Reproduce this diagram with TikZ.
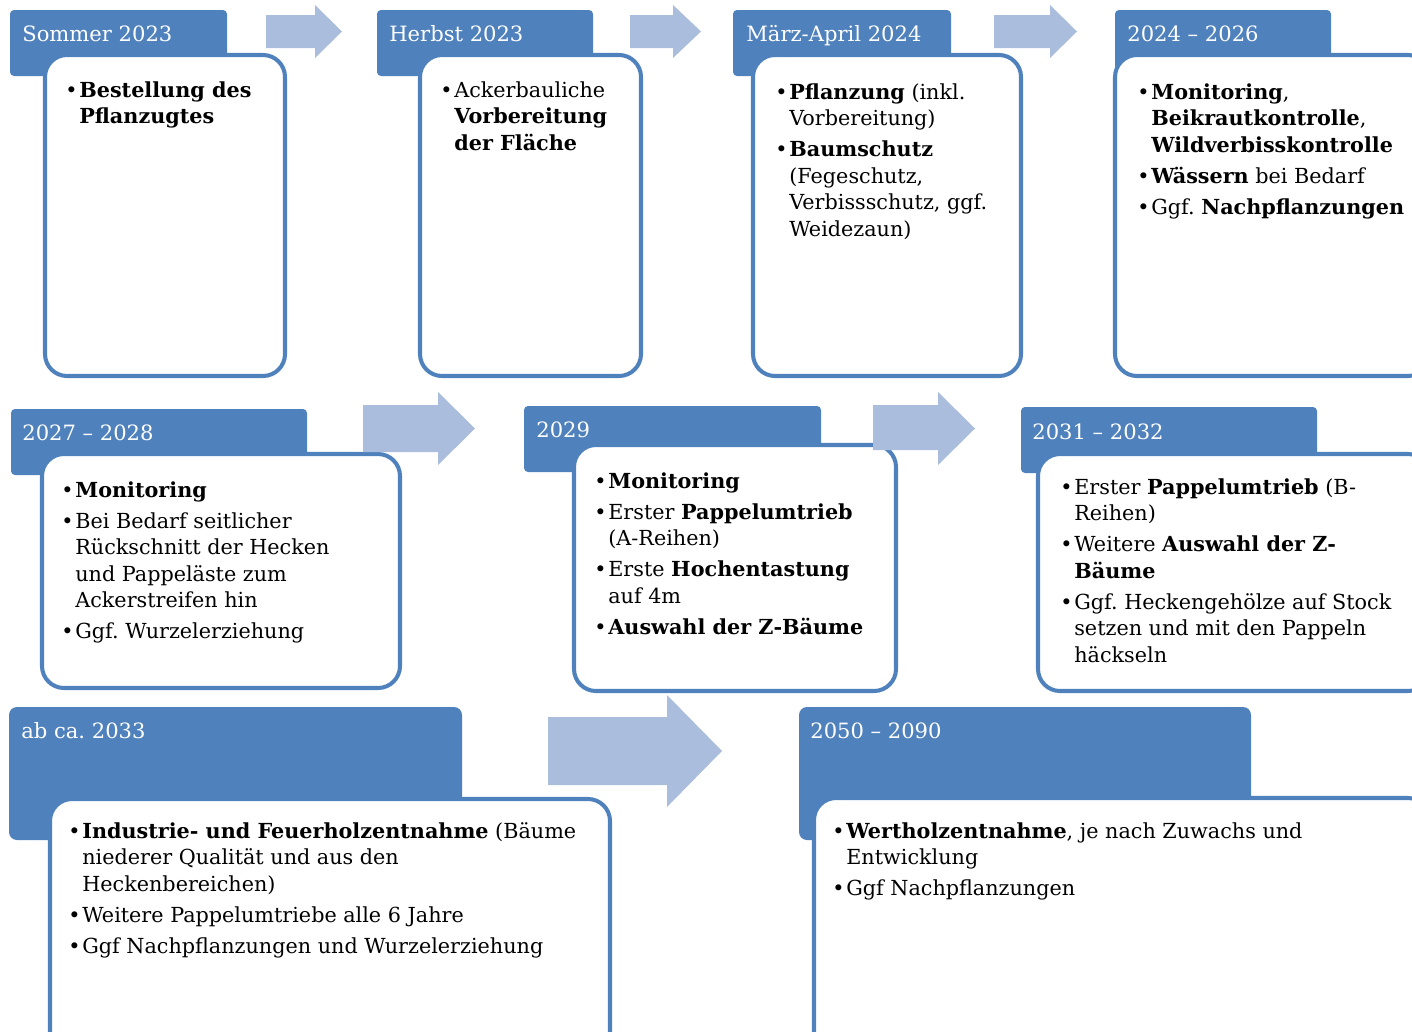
\documentclass[tikz,border=0pt]{standalone}
\usepackage{fontspec}
\setmainfont{DejaVu Serif}
\definecolor{tabblue}{RGB}{79,129,189}
\definecolor{arrowfill}{RGB}{171,189,220}
\tikzset{
  tab/.style={fill=tabblue,rounded corners=0.08cm},
  bigtab/.style={fill=tabblue,rounded corners=0.16cm},
  card/.style={fill=white,draw=tabblue,line width=2.3pt,rounded corners=0.44cm},
  flow/.style={fill=arrowfill},
  phase/.style={anchor=base west,inner sep=0,text=white,font=\fontsize{12pt}{15.1pt}\selectfont},
  body/.style={anchor=base west,inner sep=0,font=\fontsize{11.8pt}{15.1pt}\selectfont}
}
\newcommand{\ig}{\\[2.6pt]}
\begin{document}
\frenchspacing
\begin{tikzpicture}[x=0.02cm,y=-0.02cm]
  \useasboundingbox (0,0) rectangle (1412,1031);
  \clip (0,0) rectangle (1412,1031);

  % tabs
  \fill[tab] (10,10) rectangle (227,76);
  \fill[tab] (377,10) rectangle (593,76);
  \fill[tab] (733,10) rectangle (951,76);
  \fill[tab] (1115,10) rectangle (1331,76);
  \fill[tab] (11,409) rectangle (307,475);
  \fill[tab] (524,406) rectangle (821,472);
  \fill[tab] (1021,407) rectangle (1317,473);
  \fill[bigtab] (9,707) rectangle (462,840);
  \fill[bigtab] (799,707) rectangle (1251,840);

  % cards
  \draw[card] (45,55) rectangle (285,376);
  \draw[card] (420,55) rectangle (641,376);
  \draw[card] (753,55) rectangle (1021,376);
  \draw[card] (1115,55) rectangle (1430,376);
  \draw[card] (42,454) rectangle (400,688);
  \draw[card] (574,445) rectangle (896,691);
  \draw[card] (1038,454) rectangle (1430,691);
  \draw[card] (50,799) rectangle (610,1060);
  \draw[card] (814,798) rectangle (1430,1060);

  % arrows
  \fill[flow] (266,15) -- (315,15) -- (315,5) -- (342,31.5) -- (315,58) -- (315,48) -- (266,48) -- cycle;
  \fill[flow] (630,15) -- (673,15) -- (673,5) -- (701,31.5) -- (673,58) -- (673,48) -- (630,48) -- cycle;
  \fill[flow] (994,15) -- (1050,15) -- (1050,5) -- (1077,31.5) -- (1050,58) -- (1050,48) -- (994,48) -- cycle;
  \fill[flow] (363,405) -- (438,405) -- (438,392) -- (475,428.5) -- (438,465) -- (438,452) -- (363,452) -- cycle;
  \fill[flow] (873,405) -- (938,405) -- (938,392) -- (975,428.5) -- (938,465) -- (938,450) -- (873,450) -- cycle;
  \fill[flow] (548,717) -- (667,717) -- (667,695) -- (722,751) -- (667,807) -- (667,785) -- (548,785) -- cycle;

  % phase labels
  \node[phase] (p1) at (22,41) {Sommer 2023};
  \node[phase] (p2) at (389,41) {Herbst 2023};
  \node[phase] (p3) at (746,41) {März-April 2024};
  \node[phase] (p4) at (1127,41) {2024 – 2026};
  \node[phase] (p5) at (22,440) {2027 – 2028};
  \node[phase] (p6) at (536,437) {2029};
  \node[phase] (p7) at (1032,439) {2031 – 2032};
  \node[phase] (p8) at (21,738) {ab ca. 2033};
  \node[phase] (p9) at (810,738) {2050 – 2090};

  % texts
  \node[body] (s1) at (65,97) {\begin{tabular}[t]{@{}l@{\hspace{1pt}}l@{}}
    \textbullet & \textbf{Bestellung des}\\ & \textbf{Pflanzugtes}
  \end{tabular}};
  \node[body] (s2) at (440,97) {\begin{tabular}[t]{@{}l@{\hspace{1pt}}l@{}}
    \textbullet & Ackerbauliche\\ & \textbf{Vorbereitung}\\ & \textbf{der Fläche}
  \end{tabular}};
  \node[body] (s3) at (775,99) {\begin{tabular}[t]{@{}l@{\hspace{1pt}}l@{}}
    \textbullet & \textbf{Pflanzung} (inkl.\\ & Vorbereitung)\ig
    \textbullet & \textbf{Baumschutz}\\ & (Fegeschutz,\\ & Verbissschutz, ggf.\\ & Weidezaun)
  \end{tabular}};
  \node[body] (s4) at (1137,99) {\begin{tabular}[t]{@{}l@{\hspace{1pt}}l@{}}
    \textbullet & \textbf{Monitoring},\\ & \textbf{Beikrautkontrolle},\\ & \textbf{Wildverbisskontrolle}\ig
    \textbullet & \textbf{Wässern} bei Bedarf\ig
    \textbullet & Ggf. \textbf{Nachpflanzungen}
  \end{tabular}};
  \node[body] (s5) at (61,497) {\begin{tabular}[t]{@{}l@{\hspace{1pt}}l@{}}
    \textbullet & \textbf{Monitoring}\ig
    \textbullet & Bei Bedarf seitlicher\\ & Rückschnitt der Hecken\\ & und Pappeläste zum\\ & Ackerstreifen hin\ig
    \textbullet & Ggf. Wurzelerziehung
  \end{tabular}};
  \node[body] (s6) at (594,488) {\begin{tabular}[t]{@{}l@{\hspace{1pt}}l@{}}
    \textbullet & \textbf{Monitoring}\ig
    \textbullet & Erster \textbf{Pappelumtrieb}\\ & (A-Reihen)\ig
    \textbullet & Erste \textbf{Hochentastung}\\ & auf 4m\ig
    \textbullet & \textbf{Auswahl der Z-Bäume}
  \end{tabular}};
  \node[body] (s7) at (1060,494) {\begin{tabular}[t]{@{}l@{\hspace{1pt}}l@{}}
    \textbullet & Erster \textbf{Pappelumtrieb} (B-\\ & Reihen)\ig
    \textbullet & Weitere \textbf{Auswahl der Z-}\\ & \textbf{Bäume}\ig
    \textbullet & Ggf. Heckengehölze auf Stock\\ & setzen und mit den Pappeln\\ & häckseln
  \end{tabular}};
  \node[body] (s8) at (68,838) {\begin{tabular}[t]{@{}l@{\hspace{1pt}}l@{}}
    \textbullet & \textbf{Industrie- und Feuerholzentnahme} (Bäume\\ & niederer Qualität und aus den\\ & Heckenbereichen)\ig
    \textbullet & Weitere Pappelumtriebe alle 6 Jahre\ig
    \textbullet & Ggf Nachpflanzungen und Wurzelerziehung
  \end{tabular}};
  \node[body] (s9) at (832,838) {\begin{tabular}[t]{@{}l@{\hspace{1pt}}l@{}}
    \textbullet & \textbf{Wertholzentnahme}, je nach Zuwachs und\\ & Entwicklung\ig
    \textbullet & Ggf Nachpflanzungen
  \end{tabular}};
\end{tikzpicture}
\end{document}
